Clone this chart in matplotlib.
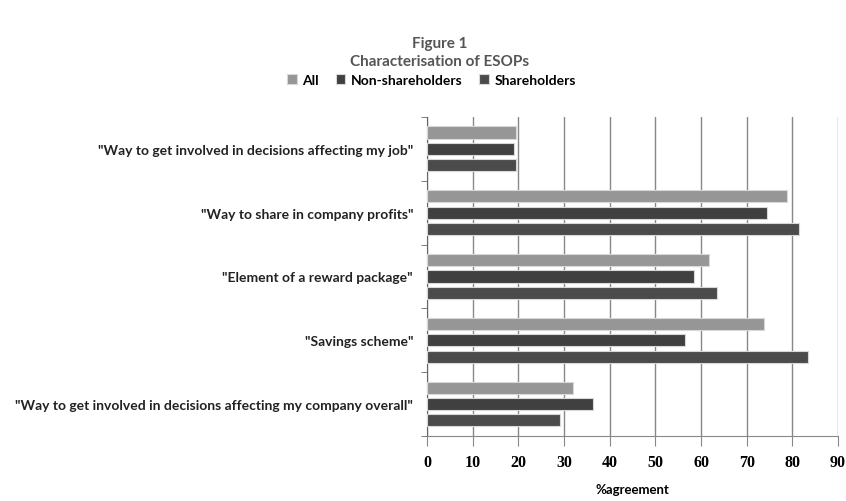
import numpy as np
import matplotlib.pyplot as plt

categories = [
    '"Way to get involved in decisions affecting my job"',
    '"Way to share in company profits"',
    '"Element of a reward package"',
    '"Savings scheme"',
    '"Way to get involved in decisions affecting my company overall"',
]
all_vals = [19.4, 78.9, 61.8, 73.7, 31.9]
non_share = [19.1, 74.5, 58.5, 56.4, 36.4]
share = [19.5, 81.4, 63.5, 83.4, 29.2]
series_names = ['All', 'Non-shareholders', 'Shareholders']
colors = ['#969696', '#404040', '#4b4b4b']

fig = plt.figure(figsize=(8.46, 5.02), dpi=100)
ax = fig.add_axes([0.5047, 0.1295, 0.4859, 0.6355])

y = np.arange(len(categories))
step = 0.256
h = 0.19
for k, (vals, name, c) in enumerate(zip([all_vals, non_share, share], series_names, colors)):
    ax.barh(y + (k - 1) * step, vals, height=h, color=c, edgecolor='#d8d8d8',
            linewidth=0.8, label=name, zorder=3)

ax.set_ylim(len(categories) - 0.5, -0.5)
ax.set_xlim(0, 90)
ax.set_xticks(range(0, 91, 10))
ax.set_yticks(y)
ax.set_yticklabels(categories, fontsize=10, family='Lato', fontweight='bold', color='#222222')
ax.set_yticks(np.arange(-0.5, len(categories), 1), minor=True)
ax.tick_params(axis='y', which='major', length=0, pad=10)
ax.tick_params(axis='y', which='minor', length=4, color='#666666', direction='out')
ax.tick_params(axis='x', length=7, color='#888888', direction='out', pad=6,
               labelsize=11.5)
for t in ax.get_xticklabels():
    t.set_family('Liberation Serif')
    t.set_fontweight('bold')
ax.grid(axis='x', color='#888888', linewidth=1.0, zorder=0)
for s in ['top', 'right']:
    ax.spines[s].set_visible(False)
ax.spines['left'].set_color('#666666')
ax.spines['bottom'].set_color('#888888')

fig.text(0.747, 0.024, '%agreement', ha='center', va='center', fontsize=9.5,
         family='Lato', fontweight='bold')

fig.text(0.52, 0.912, 'Figure 1', ha='center', va='center', fontsize=11, family='Lato',
         fontweight='bold', color='#555555')
fig.text(0.52, 0.876, 'Characterisation of ESOPs', ha='center', va='center', fontsize=11,
         family='Lato', fontweight='bold', color='#555555')

fig.legend(loc='center', bbox_to_anchor=(0.51, 0.839), ncol=3, frameon=False,
           prop={'family': 'Lato', 'weight': 'bold', 'size': 10},
           handlelength=0.7, handleheight=0.7, handletextpad=0.4, columnspacing=1.2)

fig.savefig('out.png', dpi=100)
